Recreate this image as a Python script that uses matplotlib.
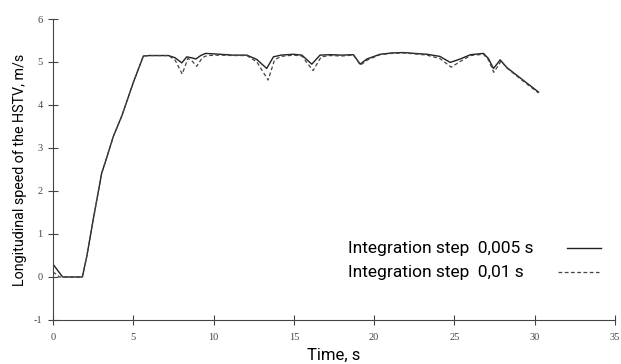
import matplotlib
matplotlib.use("Agg")
import matplotlib.pyplot as plt

# data
t_fine = [0.0, 0.3, 0.6, 1.0, 1.5, 1.83, 2.1, 2.5, 3.03, 3.24, 3.76, 4.28, 5.0, 5.63,
          6.0, 7.19, 7.6, 8.02, 8.33, 8.6, 8.9, 9.2, 9.5, 10.4, 11.2, 12.07, 12.69,
          13.31, 13.73, 14.2, 14.97, 15.5, 16.12, 16.63, 17.26, 18.0, 18.71, 19.13,
          19.55, 20.37, 21.1, 21.83, 22.5, 23.28, 24.1, 24.74, 25.36, 26.0, 26.81,
          27.12, 27.43, 27.65, 27.85, 28.27, 29.2, 30.24]
v_fine = [0.30, 0.15, 0.0, 0.0, 0.0, 0.0, 0.47, 1.32, 2.41, 2.65, 3.27, 3.74, 4.52, 5.14,
          5.15, 5.15, 5.10, 4.98, 5.12, 5.10, 5.07, 5.15, 5.20, 5.18, 5.16, 5.16, 5.06,
          4.85, 5.12, 5.16, 5.18, 5.16, 4.95, 5.16, 5.17, 5.16, 5.17, 4.95,
          5.07, 5.18, 5.21, 5.22, 5.20, 5.18, 5.13, 4.99, 5.07, 5.17, 5.20,
          5.08, 4.85, 4.95, 5.05, 4.87, 4.60, 4.30]

t_coarse = [0.0, 0.4, 1.0, 1.5, 1.83, 2.1, 2.5, 3.03, 3.24, 3.76, 4.28, 5.0, 5.63,
            6.0, 7.19, 7.6, 8.05, 8.4, 8.6, 8.95, 9.3, 9.6, 10.4, 11.2, 12.07, 12.7,
            13.4, 13.8, 14.2, 14.97, 15.5, 16.2, 16.7, 17.26, 18.0, 18.71, 19.15,
            19.6, 20.37, 21.1, 21.83, 22.5, 23.28, 24.1, 24.8, 25.4, 26.0, 26.81,
            27.12, 27.45, 27.7, 27.9, 28.3, 29.2, 30.24]
v_coarse = [0.12, 0.0, 0.0, 0.0, 0.0, 0.47, 1.32, 2.41, 2.65, 3.27, 3.74, 4.52, 5.14,
            5.15, 5.15, 5.05, 4.72, 5.08, 5.05, 4.90, 5.10, 5.15, 5.16, 5.15, 5.15, 5.0,
            4.58, 5.05, 5.13, 5.16, 5.14, 4.80, 5.12, 5.15, 5.14, 5.16, 4.93,
            5.05, 5.17, 5.20, 5.21, 5.19, 5.16, 5.08, 4.88, 5.02, 5.15, 5.18,
            5.05, 4.76, 4.90, 5.02, 4.85, 4.58, 4.28]

x_ticks = [0, 5, 10, 15, 20, 25, 30, 35]
y_ticks = [-1, 0, 1, 2, 3, 4, 5, 6]
legend_labels = ["Integration step  0,005 s", "Integration step  0,01 s"]

label_font = "Roboto"
tick_font = "Liberation Serif"
solid_col = "#222222"
dash_col = "#444444"
dash_style = (0, (3, 2))

fig = plt.figure(figsize=(6.21, 3.64), dpi=100)
ax = fig.add_axes([0.0853, 0.1209, 0.9050, 0.8269])

ax.plot(t_fine, v_fine, color=solid_col, linewidth=1.0)
ax.plot(t_coarse, v_coarse, color=dash_col, linewidth=0.9, linestyle=dash_style)

ax.set_xlim(0, 35)
ax.set_ylim(-1, 6)
ax.set_xticks(x_ticks)
ax.set_yticks(y_ticks)
ax.set_xticklabels([str(v) for v in x_ticks], fontfamily=tick_font, fontsize=7.5, color="#444444")
ax.set_yticklabels([str(v) for v in y_ticks], fontfamily=tick_font, fontsize=7.5, color="#444444")
ax.tick_params(direction="inout", length=7, width=0.8, color="#444444", pad=4)
ax.tick_params(axis="x", pad=6)

for side in ["top", "right"]:
    ax.spines[side].set_visible(False)
for side in ["left", "bottom"]:
    ax.spines[side].set_color("#444444")
    ax.spines[side].set_linewidth(0.8)

ax.set_xlabel("Time, s", fontfamily=label_font, fontsize=12, labelpad=4)
ax.set_ylabel("Longitudinal speed of the HSTV, m/s", fontfamily=label_font,
              fontsize=10.3, labelpad=5)

# legend drawn by hand: text on the left, sample line on the right
rows_y = [0.239, 0.159]
samples = [(0.9146, 0.975, "-", solid_col, 1.0), (0.898, 0.9715, dash_style, dash_col, 0.9)]
for label, yy, (x0, x1, ls, col, lw) in zip(legend_labels, rows_y, samples):
    ax.text(0.525, yy, label, transform=ax.transAxes, fontfamily=label_font,
            fontsize=12.5, va="center", ha="left")
    ax.plot([x0, x1], [yy, yy], transform=ax.transAxes, color=col, linestyle=ls,
            linewidth=lw, clip_on=False)

fig.savefig("out.png", dpi=100)
